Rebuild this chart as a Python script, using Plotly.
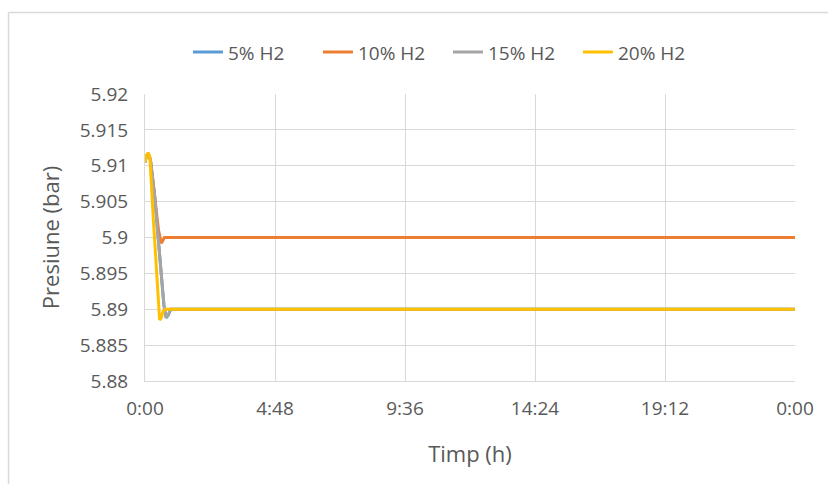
import plotly.graph_objects as go

# Time in hours, pressure in bar
t_h2_5 = [0.0, 0.05, 0.12, 0.2, 0.35, 0.5, 0.62, 0.7, 0.78, 0.86, 0.95, 24.0]
p_h2_5 = [5.9105, 5.9114, 5.9117, 5.9108, 5.906, 5.899, 5.893, 5.8905, 5.8888, 5.8892, 5.89, 5.89]

t_h2_10 = [0.0, 0.05, 0.12, 0.2, 0.35, 0.5, 0.6, 0.66, 0.72, 24.0]
p_h2_10 = [5.9105, 5.9114, 5.9117, 5.9108, 5.906, 5.901, 5.8992, 5.8997, 5.9, 5.9]

t_h2_15 = [0.0, 0.05, 0.12, 0.2, 0.35, 0.5, 0.62, 0.7, 0.78, 0.86, 0.95, 24.0]
p_h2_15 = [5.9105, 5.9114, 5.9117, 5.9108, 5.906, 5.899, 5.893, 5.8905, 5.8888, 5.8892, 5.89, 5.89]

t_h2_20 = [0.0, 0.05, 0.12, 0.18, 0.3, 0.44, 0.54, 0.6, 0.67, 0.75, 24.0]
p_h2_20 = [5.9105, 5.9114, 5.9118, 5.9112, 5.903, 5.894, 5.8885, 5.8888, 5.8897, 5.89, 5.89]

series_names = ["5% H2", "10% H2", "15% H2", "20% H2"]
series_colors = ["#5B9BD5", "#ED7D31", "#A5A5A5", "#FFC000"]

x_tick_vals = [0, 4.8, 9.6, 14.4, 19.2, 24]
x_tick_text = ["0:00", "4:48", "9:36", "14:24", "19:12", "0:00"]
y_tick_vals = [5.88, 5.885, 5.89, 5.895, 5.9, 5.905, 5.91, 5.915, 5.92]
y_tick_text = ["5.88", "5.885", "5.89", "5.895", "5.9", "5.905", "5.91", "5.915", "5.92"]

fig = go.Figure()
for name, color, xs, ys in zip(
    series_names, series_colors,
    [t_h2_5, t_h2_10, t_h2_15, t_h2_20],
    [p_h2_5, p_h2_10, p_h2_15, p_h2_20],
):
    fig.add_trace(go.Scatter(x=xs, y=ys, mode="lines", name=name,
                             line=dict(color=color, width=3)))

font_family = "Open Sans, Noto Sans, sans-serif"
text_color = "#595959"
grid_color = "#D9D9D9"

fig.update_layout(
    width=828, height=484,
    margin=dict(l=145, r=33, t=94, b=103, autoexpand=False),
    paper_bgcolor="white", plot_bgcolor="white",
    font=dict(family=font_family, size=19, color=text_color),
    showlegend=True,
    legend=dict(orientation="h", xref="container", yref="container",
                x=0.541, xanchor="center", y=0.892, yanchor="middle",
                bgcolor="rgba(0,0,0,0)", entrywidth=85,
                font=dict(size=19, color=text_color), itemwidth=30,
                traceorder="normal"),
    xaxis=dict(range=[0, 24], tickvals=x_tick_vals, ticktext=x_tick_text,
               showgrid=True, gridcolor=grid_color, gridwidth=1,
               zeroline=False, showline=True, linecolor=grid_color,
               ticks="outside", ticklen=10, tickcolor="rgba(0,0,0,0)",
               tickfont=dict(size=19, color=text_color), automargin=False,
               title=dict(text="Timp (h)", font=dict(size=22, color=text_color), standoff=26)),
    yaxis=dict(range=[5.88, 5.92], tickvals=y_tick_vals, ticktext=y_tick_text,
               showgrid=True, gridcolor=grid_color, gridwidth=1,
               zeroline=False, showline=True, linecolor=grid_color,
               ticks="outside", ticklen=12, tickcolor="rgba(0,0,0,0)",
               tickfont=dict(size=19, color=text_color), automargin=False,
               title=dict(text="Presiune (bar)", font=dict(size=22, color=text_color), standoff=14)),
)

# Outer chart frame
fig.add_shape(type="line", xref="paper", yref="paper", x0=-0.21, x1=-0.21, y0=-1, y1=1.284,
              line=dict(color="#D9D9D9", width=1.5))
fig.add_shape(type="line", xref="paper", yref="paper", x0=-0.21, x1=2, y0=1.284, y1=1.284,
              line=dict(color="#D9D9D9", width=1.5))

fig.write_html("out.html")
